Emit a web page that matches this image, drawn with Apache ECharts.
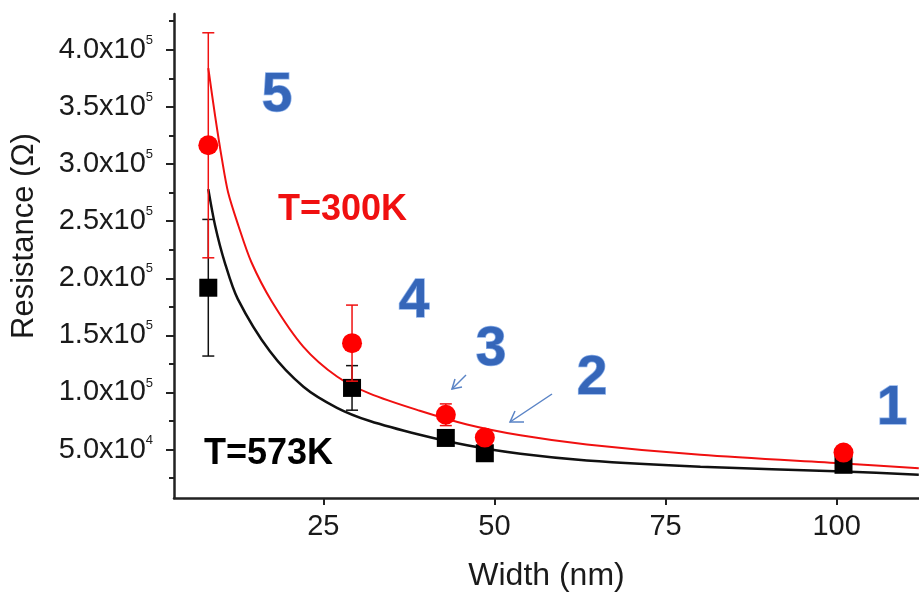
<!DOCTYPE html>
<html>
<head>
<meta charset="utf-8">
<script src="https://cdn.jsdelivr.net/npm/echarts@6/dist/echarts.min.js"></script>
<style>
  html, body { margin: 0; padding: 0; background: #fff; }
  #main { width: 919px; height: 597px; }
</style>
</head>
<body>
<div id="main"></div>
<script>
// measured points (width in nm, resistance in ohm)
const widthNm = [8.2, 29.2, 42.9, 48.6, 101.0];
const res300 = [316400, 143200, 80500, 60500, 47400];
const err300 = [98500, 33300, 9500, 2500, 2500];
const res573 = [191700, 104000, 60200, 46800, 36700];
const err573 = [59800, 19500, 2500, 2500, 2500];

// fitted curves
const fitX300 = [8.2, 9.2, 10.2, 11.1, 12.6, 14.5, 17.5, 22.1, 27.0, 31.8, 39.1, 46.0, 53.8, 63.5, 80.1, 101, 112];
const fitY300 = [384000, 342000, 304000, 275000, 246000, 214000, 179500, 140000, 114000, 99000, 84000, 72000, 62500, 54500, 45400, 37800, 33700];
const fitX573 = [8.2, 9.2, 10.6, 12.5, 17.2, 22.1, 27.0, 31.8, 39.1, 46.0, 53.8, 63.5, 80.1, 101, 112];
const fitY573 = [278000, 246000, 214000, 182000, 136000, 105000, 86600, 75000, 63000, 53800, 46300, 40500, 35000, 30800, 28000];

// axis ticks
const xTicks = [25, 50, 75, 100];
const yTicks = [50000, 100000, 150000, 200000, 250000, 300000, 350000, 400000];
const yMinorTicks = [25000, 75000, 125000, 175000, 225000, 275000, 325000, 375000, 425000];

// sample labels 1..5
const sampleLabels = ['5', '4', '3', '2', '1'];

const FONT = '"Liberation Sans", Arial, sans-serif';
const RED = '#f01010';

const zip = (a, b) => a.map((v, i) => [v, b[i]]);

function errorSeries(ys, errs, color, z) {
  return {
    type: 'custom',
    z: z,
    data: widthNm.map((x, i) => [x, ys[i] - errs[i], ys[i] + errs[i]]),
    renderItem: function (params, api) {
      const lo = api.coord([api.value(0), api.value(1)]);
      const hi = api.coord([api.value(0), api.value(2)]);
      const w = 6;
      const st = { stroke: color, lineWidth: 1.5 };
      return {
        type: 'group',
        children: [
          { type: 'line', shape: { x1: lo[0], y1: lo[1], x2: hi[0], y2: hi[1] }, style: st },
          { type: 'line', shape: { x1: lo[0] - w, y1: lo[1], x2: lo[0] + w, y2: lo[1] }, style: st },
          { type: 'line', shape: { x1: hi[0] - w, y1: hi[1], x2: hi[0] + w, y2: hi[1] }, style: st }
        ]
      };
    }
  };
}

// sample number positions (pixel centres)
const labelPos = [[277, 96], [414, 302], [491, 350], [592, 379], [892, 409]];

const chart = echarts.init(document.getElementById('main'));

const option = {
  animation: false,
  grid: { left: 174, right: 0, top: 14, bottom: 96 },
  xAxis: {
    type: 'value',
    min: 3.19,
    max: 112.03,
    name: 'Width (nm)',
    nameLocation: 'middle',
    nameGap: 62,
    nameTextStyle: { fontSize: 32, color: '#1a1a1a', fontFamily: FONT },
    axisLine: { show: true, lineStyle: { color: '#222', width: 2.5 } },
    axisTick: { show: true, customValues: xTicks, length: 7, lineStyle: { color: '#222', width: 2 } },
    axisLabel: { customValues: xTicks, margin: 14, fontSize: 29, color: '#1a1a1a', fontFamily: FONT },
    splitLine: { show: false }
  },
  yAxis: [
    {
      type: 'value',
      min: 7620,
      max: 431340,
      axisLine: { show: true, lineStyle: { color: '#222', width: 2.5 } },
      axisTick: { show: true, customValues: yTicks, length: 8, lineStyle: { color: '#222', width: 2 } },
      axisLabel: {
        customValues: yTicks,
        margin: 21,
        formatter: function (v) {
          const e = Math.floor(Math.log10(v) + 1e-9);
          const m = v / Math.pow(10, e);
          return '{m|' + m.toFixed(1) + 'x10}{e|' + e + '}';
        },
        rich: {
          m: { fontSize: 29, color: '#1a1a1a', fontFamily: FONT, lineHeight: 32 },
          e: { fontSize: 13, color: '#1a1a1a', fontFamily: FONT, verticalAlign: 'top', lineHeight: 14 }
        }
      },
      splitLine: { show: false }
    },
    {
      type: 'value',
      min: 7620,
      max: 431340,
      position: 'left',
      axisLine: { show: false },
      axisTick: { show: true, customValues: yMinorTicks, length: 5, lineStyle: { color: '#222', width: 2 } },
      axisLabel: { show: false },
      splitLine: { show: false }
    }
  ],
  series: [
    {
      name: 'fit573', type: 'line', data: zip(fitX573, fitY573), showSymbol: false,
      smooth: 0.3, z: 2,
      lineStyle: { color: '#111', width: 2.5 }
    },
    {
      name: 'fit300', type: 'line', data: zip(fitX300, fitY300), showSymbol: false,
      smooth: 0.3, z: 3,
      lineStyle: { color: RED, width: 2 }
    },
    errorSeries(res573, err573, '#111', 4),
    {
      name: 'T=573K', type: 'scatter', data: zip(widthNm, res573), z: 5,
      symbol: 'rect', symbolSize: 18, itemStyle: { color: '#000', opacity: 1 }
    },
    errorSeries(res300, err300, RED, 6),
    {
      name: 'T=300K', type: 'scatter', data: zip(widthNm, res300), z: 7,
      symbol: 'circle', symbolSize: 20, itemStyle: { color: '#ff0000', opacity: 1 }
    }
  ],
  graphic: [
    {
      type: 'text', x: 24, y: 236, rotation: Math.PI / 2,
      style: { text: 'Resistance (Ω)', align: 'center', verticalAlign: 'middle', font: '31px ' + FONT, fill: '#1a1a1a' }
    },
    {
      type: 'text', x: 278, y: 210,
      style: { text: 'T=300K', verticalAlign: 'middle', font: 'bold 36px ' + FONT, fill: RED }
    },
    {
      type: 'text', x: 204, y: 454,
      style: { text: 'T=573K', verticalAlign: 'middle', font: 'bold 36px ' + FONT, fill: '#000' }
    },
    // arrows towards samples 3 and 2
    { type: 'polyline', shape: { points: [[466, 375], [452, 389]] }, style: { stroke: '#5a84c6', lineWidth: 1.5, fill: null } },
    { type: 'polyline', shape: { points: [[462, 387], [452, 389], [455, 379]] }, style: { stroke: '#5a84c6', lineWidth: 1.5, fill: null } },
    { type: 'polyline', shape: { points: [[552, 394], [510, 422]] }, style: { stroke: '#5a84c6', lineWidth: 1.5, fill: null } },
    { type: 'polyline', shape: { points: [[524, 422], [510, 422], [515, 411]] }, style: { stroke: '#5a84c6', lineWidth: 1.5, fill: null } }
  ].concat(sampleLabels.map((t, i) => ({
    type: 'text', x: labelPos[i][0], y: labelPos[i][1],
    style: {
      text: t, align: 'center', verticalAlign: 'middle',
      font: 'bold 55px ' + FONT, fill: '#3566b9', stroke: '#8fb2ea', lineWidth: 1.5,
      shadowColor: 'rgba(40,70,130,0.35)', shadowBlur: 2, shadowOffsetX: 1, shadowOffsetY: 1
    }
  })))
};

chart.setOption(option);
</script>
</body>
</html>
